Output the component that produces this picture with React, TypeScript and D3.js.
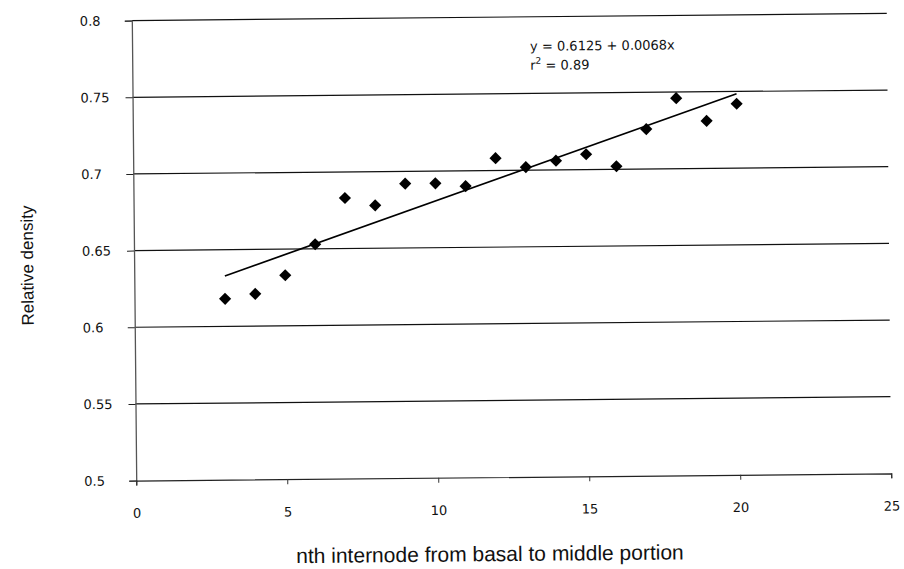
import * as d3 from 'd3';
import { useEffect, useRef } from 'react';

const internodes = [3, 4, 5, 6, 7, 8, 9, 10, 11, 12, 13, 14, 15, 16, 17, 18, 19, 20];
const density = [0.618, 0.621, 0.633, 0.653, 0.683, 0.678, 0.692, 0.692, 0.69, 0.708, 0.702, 0.706, 0.71, 0.702, 0.726, 0.746, 0.731, 0.742];
const xTicks = [0, 5, 10, 15, 20, 25];
const yTicks = [0.5, 0.55, 0.6, 0.65, 0.7, 0.75, 0.8];
const fitIntercept = 0.6125;
const fitSlope = 0.0068;
const fitRange = [3, 20];

function App() {
    const svgRef = useRef<SVGSVGElement | null>(null);

    useEffect(() => {
        if (!svgRef.current) return;
        const svg = d3.select(svgRef.current);
        svg.selectAll('*').remove();

        const sans = 'Liberation Sans, Arial, sans-serif';
        const tickFont = 'DejaVu Sans, sans-serif';
        const margin = { top: 17, right: 15, bottom: 92, left: 134 };
        const width = 904 - margin.left - margin.right;
        const height = 569 - margin.top - margin.bottom;

        const x = d3.scaleLinear().domain([0, 25]).range([0, width]);
        const y = d3.scaleLinear().domain([0.5, 0.8]).range([height, 0]);

        // the scanned page is slightly tilted
        const page = svg.append('g').attr('transform', 'rotate(-0.55, 510, 247)');

        const g = page.append('g')
            .attr('transform', `translate(${margin.left}, ${margin.top})`);

        g.selectAll('.grid')
            .data(yTicks.filter(d => d > 0.5))
            .enter().append('line')
            .attr('x1', 0).attr('x2', width)
            .attr('y1', d => y(d)).attr('y2', d => y(d))
            .attr('stroke', '#111')
            .attr('stroke-width', 1.2);

        const yAxis = g.append('g')
            .call(d3.axisLeft(y).tickValues(yTicks).tickSize(7)
                .tickFormat(d => String(+d)));
        yAxis.select('.domain').attr('stroke', '#555').attr('stroke-width', 1.3);
        yAxis.selectAll('.tick line').attr('stroke', '#222');
        yAxis.selectAll('.tick text')
            .attr('x', -52)
            .attr('text-anchor', 'start')
            .attr('font-family', tickFont).attr('font-size', '13px').attr('fill', '#111');

        const xAxis = g.append('g')
            .attr('transform', `translate(0, ${height})`)
            .call(d3.axisBottom(x).tickValues(xTicks).tickSize(5).tickPadding(23));
        xAxis.select('.domain').attr('stroke', '#222').attr('stroke-width', 1.2);
        xAxis.selectAll('.tick line').attr('stroke', '#333');
        xAxis.selectAll('.tick text')
            .attr('font-family', tickFont).attr('font-size', '13px').attr('fill', '#111');

        // regression line
        const line = d3.line<number>()
            .x(d => x(d))
            .y(d => y(fitIntercept + fitSlope * d));
        g.append('path')
            .datum(fitRange)
            .attr('d', line)
            .attr('stroke', '#000')
            .attr('stroke-width', 1.7)
            .attr('fill', 'none');

        const diamond = d3.symbol().type(d3.symbolSquare).size(74);
        g.selectAll('.dot')
            .data(internodes)
            .enter().append('path')
            .attr('class', 'dot')
            .attr('d', diamond)
            .attr('transform', (d, i) => `translate(${x(d)}, ${y(density[i])}) rotate(45)`)
            .attr('fill', '#000');

        const eq = page.append('g').attr('transform', 'translate(532, 51)');
        eq.append('text')
            .attr('font-family', tickFont).attr('font-size', '13px').attr('fill', '#111')
            .text(`y = ${fitIntercept} + ${fitSlope}x`);
        const r2 = eq.append('text')
            .attr('y', 19)
            .attr('font-family', tickFont).attr('font-size', '13px').attr('fill', '#111');
        r2.append('tspan').text('r');
        r2.append('tspan').attr('font-size', '9px').attr('dy', -6).text('2');
        r2.append('tspan').attr('dy', 6).text(' = 0.89');

        page.append('text')
            .attr('transform', 'translate(33, 261) rotate(-90)')
            .attr('text-anchor', 'middle')
            .attr('font-family', sans).attr('font-size', '17px').attr('fill', '#111')
            .text('Relative density');

        page.append('text')
            .attr('x', 487).attr('y', 561)
            .attr('text-anchor', 'middle')
            .attr('font-family', sans).attr('font-size', '21px').attr('fill', '#111')
            .text('nth internode from basal to middle portion');
    }, []);

    return (
        <svg ref={svgRef} width={904} height={569}
            style={{ position: 'absolute', left: 0, top: 0, background: '#fff' }} />
    );
}

export default App;
